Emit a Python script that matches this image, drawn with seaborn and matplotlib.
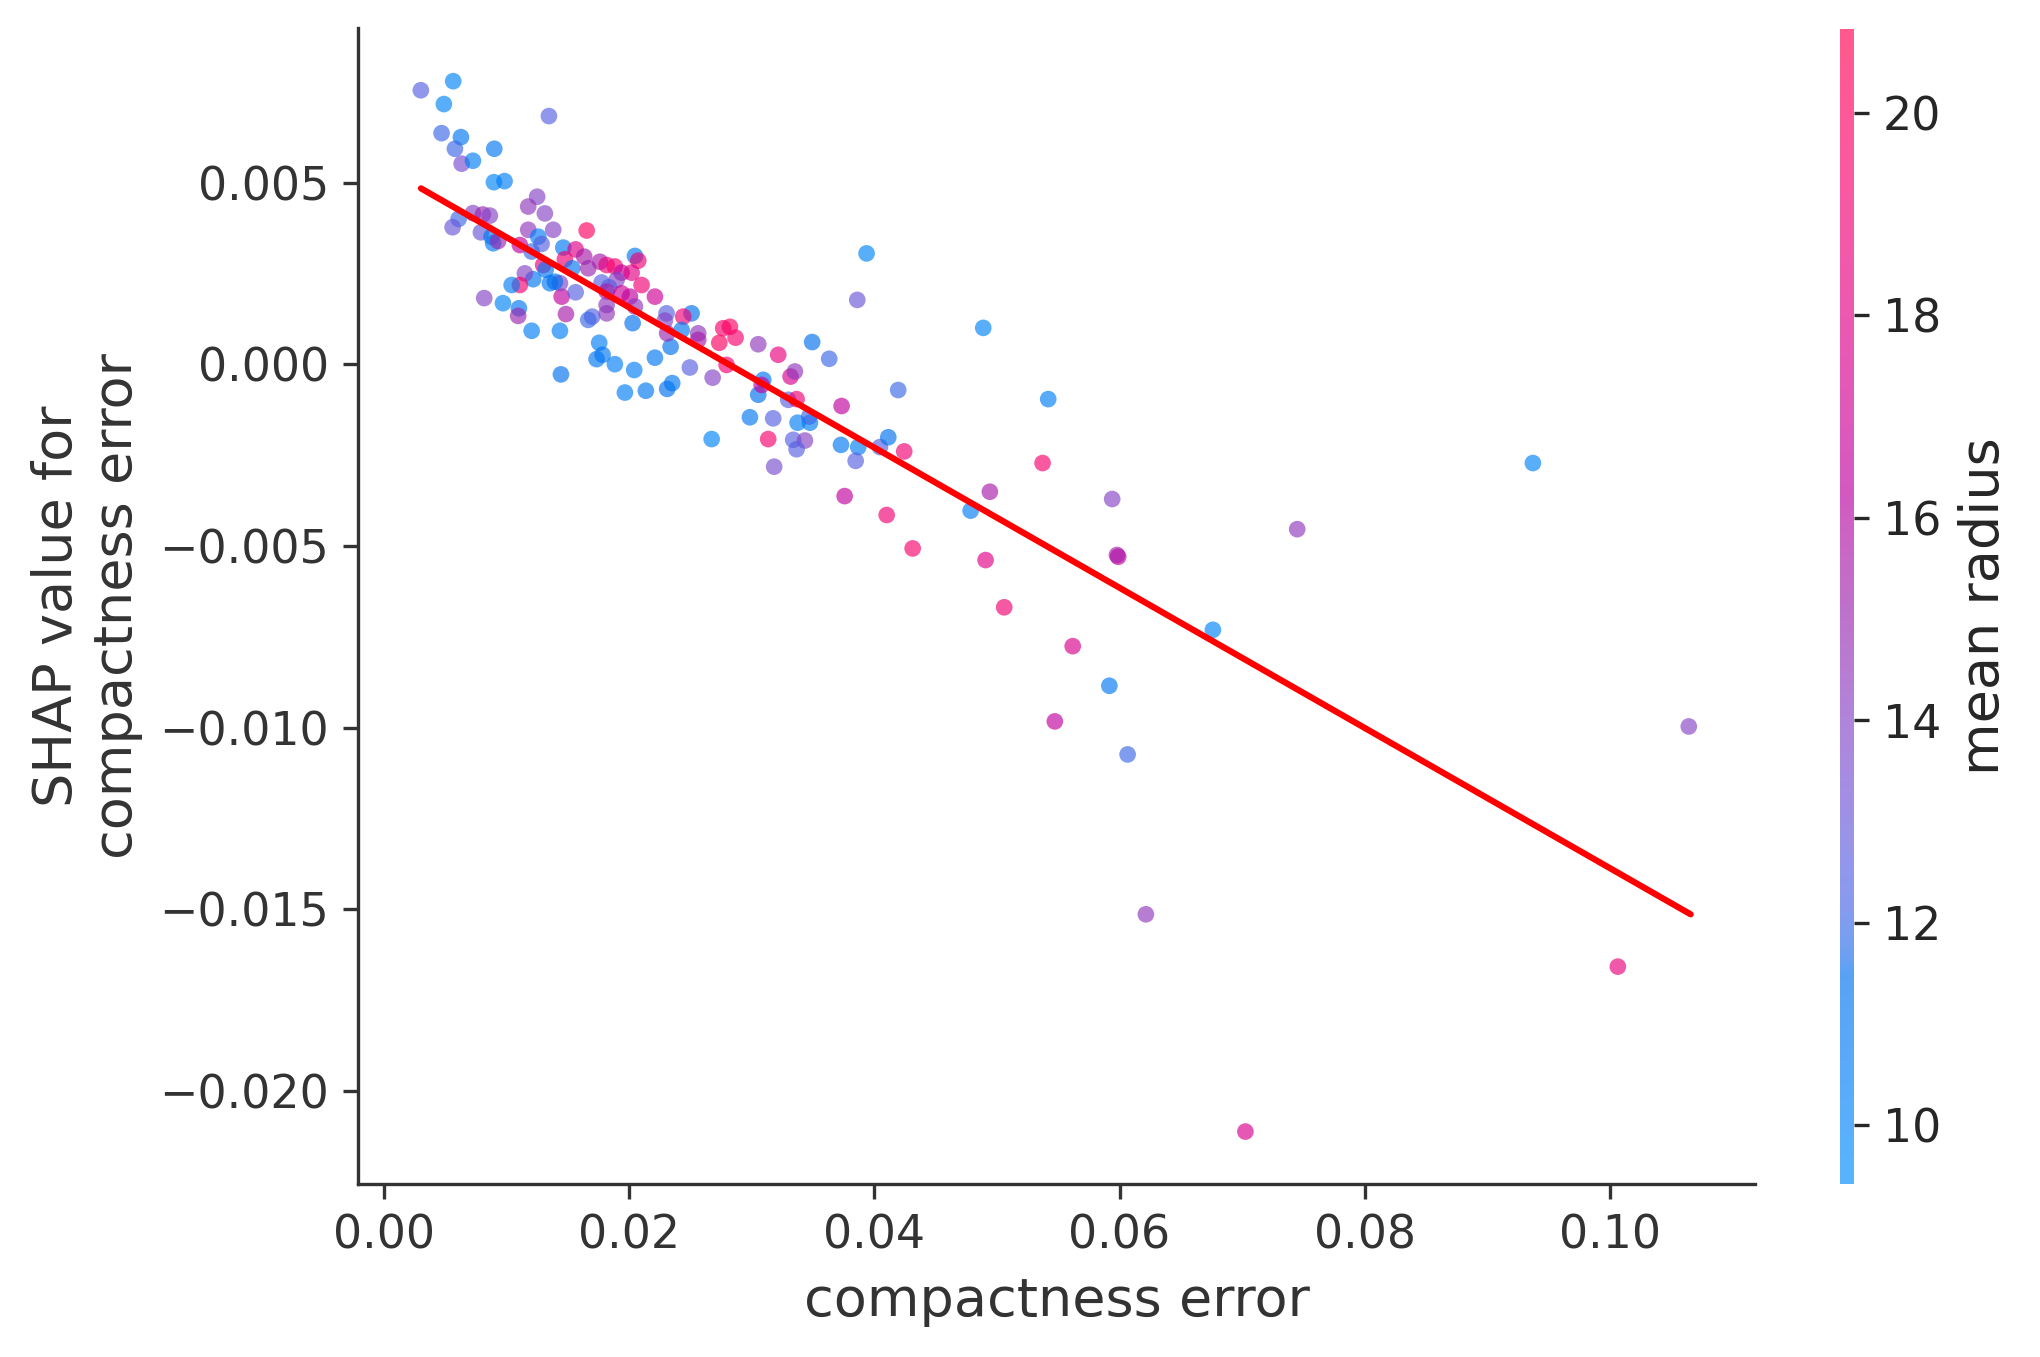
import numpy as np
import pandas as pd
import matplotlib
matplotlib.use("Agg")
import matplotlib.pyplot as plt
import seaborn as sns
from matplotlib.colors import LinearSegmentedColormap, Normalize
from matplotlib.cm import ScalarMappable

# ---------------- data ----------------
compactness_error = [
    0.00299, 0.00563, 0.00487, 0.01344, 0.00468, 0.00626, 0.00577, 0.00898, 0.00632, 0.00724,
    0.00895, 0.00982, 0.01248, 0.01175, 0.01311, 0.00724, 0.00805, 0.00862, 0.00607, 0.00558,
    0.00789, 0.00876, 0.00889, 0.00930, 0.01175, 0.01379, 0.01652, 0.01257, 0.01284, 0.01107,
    0.01203, 0.01461, 0.01562, 0.01632, 0.01474, 0.02046, 0.02073, 0.01297, 0.01534, 0.01665,
    0.01760, 0.01815, 0.01882, 0.01937, 0.02019, 0.01896, 0.02100, 0.02209, 0.01774, 0.01834,
    0.01815, 0.01937, 0.02005, 0.02046, 0.01815, 0.01815, 0.02304, 0.02508, 0.02440, 0.02290,
    0.02027, 0.01697, 0.01665, 0.01483, 0.01448, 0.01562, 0.01434, 0.01352, 0.01393, 0.01317,
    0.01216, 0.01148, 0.01107, 0.01040, 0.00816, 0.00969, 0.01099, 0.01093, 0.01203, 0.01434,
    0.02427, 0.02562, 0.02562, 0.02337, 0.02309, 0.02766, 0.02821, 0.02867, 0.02734, 0.03052,
    0.03215, 0.02794, 0.02494, 0.02680, 0.01442, 0.01754, 0.01733, 0.01782, 0.01882, 0.02040,
    0.01964, 0.02135, 0.02209, 0.02309, 0.02350, 0.03093, 0.03052, 0.03080, 0.03316, 0.03351,
    0.03297, 0.03365, 0.03492, 0.03631, 0.03936, 0.03860, 0.04194, 0.03732, 0.02984, 0.03174,
    0.03373, 0.03474, 0.03468, 0.02672, 0.03133, 0.03337, 0.03433, 0.03365, 0.03182, 0.03727,
    0.03868, 0.03847, 0.04045, 0.04113, 0.04243,
    0.04888, 0.05418, 0.05372, 0.04942, 0.04785, 0.05940, 0.03757, 0.04100, 0.04312, 0.04907,
    0.05989, 0.05979, 0.05059,
    0.07450, 0.09373, 0.05618, 0.06762, 0.05917, 0.05472, 0.06066, 0.10645, 0.06215, 0.10066,
    0.07027,
]
shap_value = [
    0.00754, 0.00779, 0.00716, 0.00683, 0.00636, 0.00625, 0.00593, 0.00593, 0.00552, 0.00560,
    0.00501, 0.00504, 0.00461, 0.00434, 0.00415, 0.00416, 0.00412, 0.00409, 0.00400, 0.00377,
    0.00363, 0.00351, 0.00333, 0.00339, 0.00370, 0.00370, 0.00368, 0.00351, 0.00331, 0.00328,
    0.00310, 0.00321, 0.00316, 0.00296, 0.00289, 0.00298, 0.00285, 0.00273, 0.00264, 0.00264,
    0.00282, 0.00273, 0.00269, 0.00252, 0.00252, 0.00232, 0.00218, 0.00186, 0.00225, 0.00212,
    0.00200, 0.00195, 0.00186, 0.00159, 0.00163, 0.00140, 0.00140, 0.00140, 0.00131, 0.00120,
    0.00113, 0.00131, 0.00122, 0.00138, 0.00186, 0.00198, 0.00223, 0.00223, 0.00227, 0.00260,
    0.00234, 0.00250, 0.00218, 0.00218, 0.00182, 0.00168, 0.00154, 0.00133, 0.00092, 0.00092,
    0.00094, 0.00085, 0.00067, 0.00048, 0.00085, 0.00099, 0.00103, 0.00073, 0.00059, 0.00055,
    0.00026, -0.00002, -0.00009, -0.00037, -0.00028, 0.00059, 0.00014, 0.00026, 0.00000, -0.00016,
    -0.00078, -0.00073, 0.00018, -0.00068, -0.00052, -0.00043, -0.00084, -0.00057, -0.00034, -0.00020,
    -0.00098, -0.00096, 0.00061, 0.00015, 0.00305, 0.00177, -0.00071, -0.00115, -0.00146, -0.00149,
    -0.00161, -0.00161, -0.00144, -0.00206, -0.00206, -0.00208, -0.00210, -0.00234, -0.00282, -0.00222,
    -0.00228, -0.00266, -0.00228, -0.00201, -0.00240,
    0.00100, -0.00096, -0.00272, -0.00351, -0.00403, -0.00371, -0.00363, -0.00415, -0.00507, -0.00539,
    -0.00530, -0.00525, -0.00669,
    -0.00454, -0.00272, -0.00776, -0.00731, -0.00885, -0.00983, -0.01074, -0.00997, -0.01514, -0.01658,
    -0.02112,
]
mean_radius = [
    12.5, 10.0, 10.0, 12.5, 12.0, 11.0, 12.0, 11.0, 13.5, 10.5,
    10.0, 10.5, 14.0, 14.5, 14.0, 14.0, 15.0, 14.0, 12.0, 13.0,
    13.0, 11.0, 11.0, 15.0, 14.5, 14.0, 20.0, 10.5, 12.5, 16.5,
    12.0, 11.0, 18.0, 15.5, 19.0, 11.0, 19.0, 18.5, 11.0, 15.0,
    15.5, 18.5, 19.5, 16.5, 18.0, 14.0, 19.0, 17.0, 12.5, 12.5,
    15.5, 17.0, 16.5, 14.5, 14.5, 14.5, 12.5, 11.5, 19.0, 14.0,
    11.5, 12.5, 12.0, 15.5, 16.5, 12.5, 14.0, 11.0, 11.5, 11.0,
    11.0, 14.0, 19.5, 10.5, 14.0, 10.0, 11.0, 15.0, 10.5, 10.5,
    11.0, 14.5, 15.5, 11.5, 15.0, 19.5, 20.0, 19.5, 20.0, 14.5,
    18.5, 19.0, 12.5, 14.0, 11.5, 10.5, 11.0, 11.0, 10.5, 10.5,
    10.5, 11.0, 11.0, 11.5, 11.0, 11.0, 11.5, 16.5, 17.5, 14.5,
    12.5, 19.0, 11.5, 12.0, 10.0, 13.0, 12.0, 16.5, 11.0, 12.5,
    10.5, 10.5, 12.0, 10.0, 19.5, 12.5, 14.0, 12.5, 13.5, 11.0,
    10.5, 12.5, 12.5, 11.5, 19.0,
    10.0, 10.5, 19.5, 15.5, 10.5, 14.0, 16.5, 19.0, 19.5, 18.0,
    16.5, 15.5, 19.0,
    14.5, 10.0, 17.5, 10.0, 11.0, 16.5, 12.0, 14.0, 14.5, 18.5,
    17.5,
]
trend_x = [0.0030, 0.1066]
trend_y = [0.00484, -0.01514]
x_ticks = [0.00, 0.02, 0.04, 0.06, 0.08, 0.10]
y_ticks = [-0.020, -0.015, -0.010, -0.005, 0.000, 0.005]
cbar_ticks = [10, 12, 14, 16, 18, 20]
radius_range = (9.42, 20.83)
x_range = (-0.00212, 0.11187)
y_range = (-0.02257, 0.009255)

feature_name = "compactness error"
color_name = "mean radius"

# ---------------- shap-like red_blue colormap (Lch interpolation) ----------------
def lch_to_rgb(l, c, h):
    a, b = c * np.cos(h), c * np.sin(h)
    fy = (l + 16.0) / 116.0
    fx = fy + a / 500.0
    fz = fy - b / 200.0
    def finv(t):
        return t ** 3 if t > 6 / 29 else 3 * (6 / 29) ** 2 * (t - 4 / 29)
    X, Y, Z = 0.95047 * finv(fx), 1.0 * finv(fy), 1.08883 * finv(fz)
    M = np.array([[3.2406, -1.5372, -0.4986],
                  [-0.9689, 1.8758, 0.0415],
                  [0.0557, -0.2040, 1.0570]])
    rgb = M @ np.array([X, Y, Z])
    out = []
    for v in rgb:
        v = 1.055 * v ** (1 / 2.4) - 0.055 if v > 0.0031308 else 12.92 * v
        out.append(min(max(v, 0.0), 1.0))
    return out

blue_lch = [54.0, 70.0, 4.6588]
l_mid = 40.0
red_lch = [54.0, 90.0, 0.35470565 + 2 * np.pi]
nsteps = 100
l_vals = list(np.linspace(blue_lch[0], l_mid, nsteps // 2)) + list(np.linspace(l_mid, red_lch[0], nsteps // 2))
c_vals = np.linspace(blue_lch[1], red_lch[1], nsteps)
h_vals = np.linspace(blue_lch[2], red_lch[2], nsteps)
cols = [lch_to_rgb(l, c, h) for l, c, h in zip(l_vals, c_vals, h_vals)]
red_blue = LinearSegmentedColormap.from_list("red_blue", cols)
alpha = 0.65
faded = [[1 - alpha + alpha * ch for ch in col] for col in cols]
red_blue_faded = LinearSegmentedColormap.from_list("red_blue_faded", faded)

# ---------------- figure ----------------
sns.set_style("ticks")
plt.rcParams["font.family"] = ["DejaVu Sans"]
axis_color = "#333333"

df = pd.DataFrame({"x": compactness_error, "y": shap_value, "c": mean_radius})

DPI = 300
fig = plt.figure(figsize=(2040 / DPI, 1357 / DPI), dpi=DPI)
ax = fig.add_axes([0.1756, 0.1273, 0.6848, 0.8521])
cax = fig.add_axes([0.902, 0.1277, 0.0067, 0.8509])

sns.scatterplot(data=df, x="x", y="y", hue="c", palette=red_blue,
                hue_norm=radius_range, s=16, alpha=alpha, linewidth=0,
                legend=False, ax=ax, zorder=2)
sns.lineplot(x=trend_x, y=trend_y, color="red", linewidth=1.5, ax=ax, zorder=3)

ax.set_xlim(*x_range)
ax.set_ylim(*y_range)
ax.set_xticks(x_ticks)
ax.set_yticks(y_ticks)
ax.set_xlabel(feature_name, fontsize=13, color=axis_color)
ax.set_ylabel("SHAP value for\n" + feature_name, fontsize=13, color=axis_color)
ax.tick_params(axis="both", labelsize=11, colors=axis_color, labelcolor=axis_color)
for side in ["top", "right"]:
    ax.spines[side].set_visible(False)
for side in ["left", "bottom"]:
    ax.spines[side].set_color(axis_color)

sm = ScalarMappable(norm=Normalize(*radius_range), cmap=red_blue_faded)
cb = fig.colorbar(sm, cax=cax, ticks=cbar_ticks)
cb.outline.set_visible(False)
cb.ax.tick_params(labelsize=11, length=3.5)
cb.set_label(color_name, size=13, labelpad=4)

fig.savefig("out.png", dpi=DPI)
